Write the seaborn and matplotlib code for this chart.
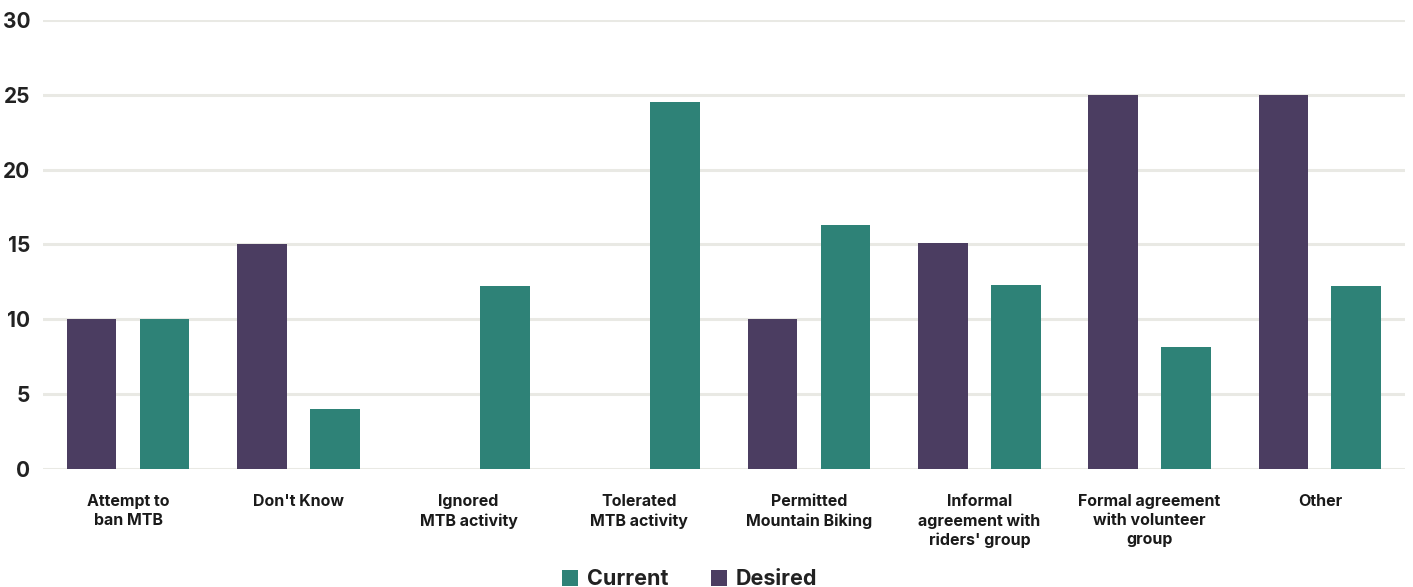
import matplotlib
matplotlib.use("Agg")
import matplotlib.pyplot as plt
import seaborn as sns
import pandas as pd

categories = [
    "Attempt to\nban MTB",
    "Don't Know",
    "Ignored\nMTB activity",
    "Tolerated\nMTB activity",
    "Permitted\nMountain Biking",
    "Informal\nagreement with\nriders' group",
    "Formal agreement\nwith volunteer\ngroup",
    "Other",
]
desired = [10, 15, 0, 0, 10, 15.1, 25, 25]
current = [10, 4, 12.2, 24.5, 16.3, 12.3, 8.15, 12.2]
y_ticks = [0, 5, 10, 15, 20, 25, 30]

colors = {"Desired": "#4B3D61", "Current": "#2E8277"}

df = pd.DataFrame({
    "category": categories * 2,
    "series": ["Desired"] * len(categories) + ["Current"] * len(categories),
    "value": desired + current,
})

sns.set_theme(style="white")
plt.rcParams["font.family"] = ["Inter", "DejaVu Sans"]

fig = plt.figure(figsize=(14.13, 5.87), dpi=100)
ax = fig.add_axes([0.0304, 0.201, 0.9639, 0.765])

sns.barplot(
    data=df, x="category", y="value", hue="series",
    hue_order=["Desired", "Current"], palette=colors,
    order=categories, width=0.856, gap=0.32, ax=ax,
    saturation=1, legend=True, linewidth=0,
)

ax.set_ylim(0, 30)
ax.set_xlim(-0.5, len(categories) - 0.5)
ax.set_yticks(y_ticks)
ax.set_xlabel("")
ax.set_ylabel("")
ax.yaxis.grid(True, color="#E9E9E4", linewidth=2.2)
ax.set_axisbelow(True)
for s in ax.spines.values():
    s.set_visible(False)
ax.tick_params(axis="y", length=0, pad=9, labelsize=15, labelcolor="#222222")
ax.tick_params(axis="x", length=0, pad=18, labelsize=11.5, labelcolor="#1a1a1a")
for lbl in ax.get_yticklabels():
    lbl.set_fontweight("bold")
for lbl in ax.get_xticklabels():
    lbl.set_fontweight("bold")
    lbl.set_linespacing(1.32)

handles, labels = ax.get_legend_handles_labels()
ax.legend_.remove()
order = [labels.index("Current"), labels.index("Desired")]
fig.legend(
    [handles[i] for i in order], [labels[i] for i in order],
    loc="center", bbox_to_anchor=(0.488, 0.013), ncol=2, frameon=False,
    prop={"size": 15.5, "weight": "bold"}, handlelength=0.75, handleheight=0.75,
    handletextpad=0.4, columnspacing=1.95, borderpad=0,
)
for t in fig.legends[0].get_texts():
    t.set_color("#222222")

fig.savefig("out.png", dpi=100)
